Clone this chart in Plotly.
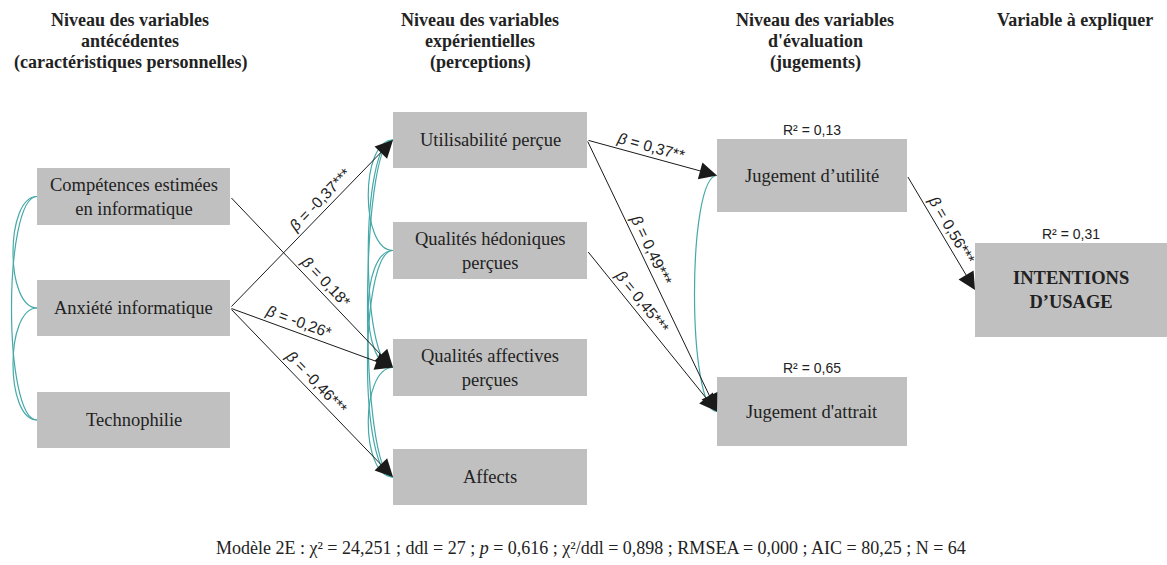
import math
import plotly.graph_objects as go

# Données du modèle (variables, coefficients, R², ajustement)
headers = [
    "Niveau des variables<br>antécédentes<br>(caractéristiques personnelles)",
    "Niveau des variables<br>expérientielles<br>(perceptions)",
    "Niveau des variables<br>d'évaluation<br>(jugements)",
    "Variable à expliquer",
]
nodes = [
    "Compétences estimées<br>en informatique",
    "Anxiété informatique",
    "Technophilie",
    "Utilisabilité perçue",
    "Qualités hédoniques<br>perçues",
    "Qualités affectives<br>perçues",
    "Affects",
    "Jugement d’utilité",
    "Jugement d'attrait",
    "<b>INTENTIONS<br>D’USAGE</b>",
]
path_from = [1, 0, 1, 1, 3, 3, 4, 7]
path_to = [3, 5, 5, 6, 7, 8, 8, 9]
betas = ["-0,37", "0,18", "-0,26", "-0,46", "0,37", "0,49", "0,45", "0,56"]
stars = ["***", "*", "*", "***", "**", "***", "***", "***"]
r2_nodes = [7, 8, 9]
r2_values = ["0,13", "0,65", "0,31"]
cov_pairs = [(0, 1), (1, 2), (0, 2), (3, 4), (3, 5), (3, 6), (4, 5), (4, 6), (5, 6), (7, 8)]
fit_text = ("Modèle 2E : χ² = 24,251 ; ddl = 27 ; <i>p</i> = 0,616 ; χ²/ddl = 0,898 ; "
            "RMSEA = 0,000 ; AIC = 80,25 ; N = 64")

# Géométrie du schéma (x0, x1, y0, y1) en pixels
boxes = [
    (37, 230, 168, 225), (37, 230, 280, 336), (37, 230, 392, 448),
    (393, 587, 112, 168), (393, 587, 222, 279), (393, 587, 339, 396), (393, 587, 449, 505),
    (717, 907, 139, 212), (717, 907, 377, 446),
    (975, 1167, 243, 337),
]
header_x = [130, 480, 815, 1075]
label_t = [0.6, 0.54, 0.4, 0.48, 0.47, 0.42, 0.36, 0.52]
cov_bulge = [-32, -32, -34, -33, -33, -34, -33, -34, -33, -30]

W, H = 1167, 565
fig = go.Figure()
teal = "#45a8a8"
annotations = []
shapes = []

# Boîtes des variables
for i, (x0, x1, y0, y1) in enumerate(boxes):
    shapes.append(dict(type="rect", x0=x0, x1=x1, y0=y0, y1=y1,
                       fillcolor="#c0c0c0", line_width=0, layer="below"))
    annotations.append(dict(x=(x0 + x1) / 2, y=(y0 + y1) / 2, text=nodes[i],
                            showarrow=False,
                            font=dict(family="Liberation Serif", size=18.5, color="#222")))

# Covariances (courbes sarcelle)
for k, (a, b) in enumerate(cov_pairs):
    xa, ya = boxes[a][0], (boxes[a][2] + boxes[a][3]) / 2
    xb, yb = boxes[b][0], (boxes[b][2] + boxes[b][3]) / 2
    cx = xa + cov_bulge[k]
    shapes.append(dict(type="path",
                       path=f"M {xa},{ya} C {cx},{ya} {cx},{yb} {xb},{yb}",
                       line=dict(color=teal, width=1.2)))

# Chemins (flèches) et coefficients
for k in range(len(path_from)):
    s, t = path_from[k], path_to[k]
    x1, y1 = boxes[s][1], (boxes[s][2] + boxes[s][3]) / 2
    x2, y2 = boxes[t][0], (boxes[t][2] + boxes[t][3]) / 2
    annotations.append(dict(x=x2, y=y2, ax=x1, ay=y1, xref="x", yref="y",
                            axref="x", ayref="y", text="", showarrow=True,
                            arrowhead=2, arrowsize=3.5, arrowwidth=1,
                            arrowcolor="#1a1a1a"))
    dx, dy = x2 - x1, y2 - y1
    L = math.hypot(dx, dy)
    nx, ny = dy / L, -dx / L
    if ny > 0:
        nx, ny = -nx, -ny
    f = label_t[k]
    annotations.append(dict(x=x1 + f * dx + 11 * nx, y=y1 + f * dy + 11 * ny,
                            text=f"<i>β</i> = {betas[k]}{stars[k]}",
                            textangle=math.degrees(math.atan2(dy, dx)),
                            showarrow=False,
                            font=dict(family="Liberation Sans", size=15.5, color="#222")))

# R²
for n, v in zip(r2_nodes, r2_values):
    x0, x1, y0, y1 = boxes[n]
    annotations.append(dict(x=(x0 + x1) / 2, y=y0 - 9, text=f"R² = {v}",
                            showarrow=False,
                            font=dict(family="Liberation Sans", size=14, color="#222")))

# En-têtes de colonnes (une annotation par ligne, interligne 21 px)
for x, h in zip(header_x, headers):
    for j, line in enumerate(h.split("<br>")):
        annotations.append(dict(x=x, y=20 + 21 * j, text=f"<b>{line}</b>",
                                showarrow=False,
                                font=dict(family="Liberation Serif", size=18, color="#222")))

# Indices d'ajustement
annotations.append(dict(x=591, y=548, text=fit_text, showarrow=False,
                        font=dict(family="Liberation Serif", size=18, color="#222")))

fig.update_layout(
    width=W, height=H, margin=dict(l=0, r=0, t=0, b=0),
    plot_bgcolor="white", paper_bgcolor="white",
    xaxis=dict(range=[0, W], visible=False, fixedrange=True),
    yaxis=dict(range=[H, 0], visible=False, fixedrange=True),
    shapes=shapes, annotations=annotations, showlegend=False,
)

fig.write_html("out.html", config={"displayModeBar": False},
               post_script="document.body.style.margin='0';")
